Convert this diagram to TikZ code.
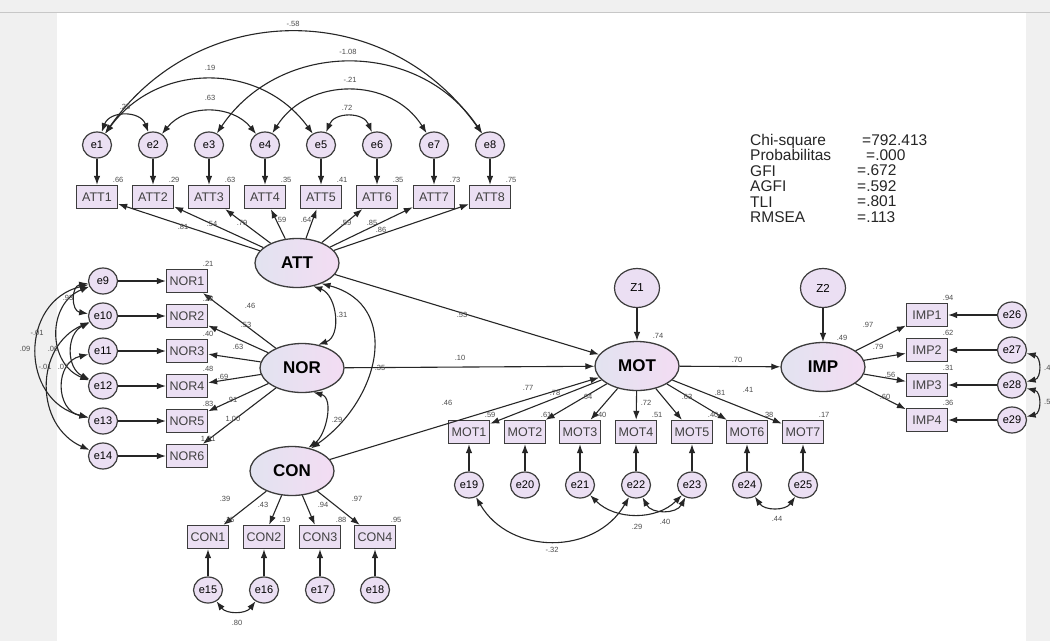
\documentclass[tikz,border=0pt]{standalone}
\usepackage{fontspec}
\setmainfont{Liberation Sans}
\usetikzlibrary{shapes.geometric,arrows.meta}

\definecolor{boxfill}{RGB}{235,223,243}
\definecolor{latleft}{RGB}{226,227,240}
\definecolor{latright}{RGB}{243,220,243}
\definecolor{edge}{RGB}{60,60,60}
\definecolor{pagegray}{RGB}{240,240,240}

\tikzset{
  err/.style={ellipse, draw=edge, fill=boxfill, line width=1.2pt, minimum width=29pt, minimum height=26pt, inner sep=0pt, font=\fontsize{11}{11}\selectfont},
  obs/.style={rectangle, draw=edge, fill=boxfill, line width=1.3pt, minimum width=41pt, minimum height=23pt, inner sep=0pt, text=black!75, font=\fontsize{12.5}{12.5}\selectfont},
  lat/.style={ellipse, draw=edge, left color=latleft, right color=latright, line width=1.3pt, minimum width=84pt, minimum height=49pt, inner sep=0pt, font=\fontsize{17}{17}\selectfont\bfseries},
  zeta/.style={ellipse, draw=edge, fill=boxfill, line width=1.2pt, minimum width=45pt, minimum height=39pt, inner sep=0pt, font=\fontsize{11.5}{11.5}\selectfont},
  reg/.style={-{Latex[length=9pt,width=6.5pt]}, draw=black!85, line width=1.1pt},
  cov/.style={{Latex[length=9pt,width=6.5pt]}-{Latex[length=9pt,width=6.5pt]}, draw=black!85, line width=1.1pt},
  est/.style={font=\fontsize{7.5}{7.5}\selectfont, text=black!70, inner sep=0pt},
  fitlab/.style={anchor=north west, align=left, inner sep=0pt, text=black!85, font=\fontsize{15.5}{15.4}\selectfont},
}

\begin{document}
\begin{tikzpicture}[x=1pt,y=1pt]
\useasboundingbox (0,0) rectangle (1050,-641);
\fill[pagegray] (0,0) rectangle (1050,-641);
\fill[white] (57,-13) rectangle (1026,-641);
\draw[black!22, line width=1pt] (0,-12.5) -- (1050,-12.5);

% ATT block
\node[err] (e1) at (97,-145) {e1};
\node[err] (e2) at (153,-145) {e2};
\node[err] (e3) at (209,-145) {e3};
\node[err] (e4) at (265,-145) {e4};
\node[err] (e5) at (321,-145) {e5};
\node[err] (e6) at (377,-145) {e6};
\node[err] (e7) at (434,-145) {e7};
\node[err] (e8) at (490,-145) {e8};
\node[obs] (ATT1) at (97,-197) {ATT1};
\node[obs] (ATT2) at (153,-197) {ATT2};
\node[obs] (ATT3) at (209,-197) {ATT3};
\node[obs] (ATT4) at (265,-197) {ATT4};
\node[obs] (ATT5) at (321,-197) {ATT5};
\node[obs] (ATT6) at (377,-197) {ATT6};
\node[obs] (ATT7) at (434,-197) {ATT7};
\node[obs] (ATT8) at (490,-197) {ATT8};
\node[lat] (ATT) at (297,-263) {ATT};

% NOR block
\node[err] (e9) at (103,-281) {e9};
\node[err] (e10) at (103,-316) {e10};
\node[err] (e11) at (103,-351) {e11};
\node[err] (e12) at (103,-386) {e12};
\node[err] (e13) at (103,-421) {e13};
\node[err] (e14) at (103,-456) {e14};
\node[obs] (NOR1) at (187,-281) {NOR1};
\node[obs] (NOR2) at (187,-316) {NOR2};
\node[obs] (NOR3) at (187,-351) {NOR3};
\node[obs] (NOR4) at (187,-386) {NOR4};
\node[obs] (NOR5) at (187,-421) {NOR5};
\node[obs] (NOR6) at (187,-456) {NOR6};
\node[lat] (NOR) at (302,-368) {NOR};

% CON block
\node[lat] (CON) at (292,-471) {CON};
\node[obs] (CON1) at (208,-537) {CON1};
\node[obs] (CON2) at (264,-537) {CON2};
\node[obs] (CON3) at (320,-537) {CON3};
\node[obs] (CON4) at (375,-537) {CON4};
\node[err] (e15) at (208,-590) {e15};
\node[err] (e16) at (264,-590) {e16};
\node[err] (e17) at (320,-590) {e17};
\node[err] (e18) at (375,-590) {e18};

% MOT block
\node[zeta] (Z1) at (637,-288) {Z1};
\node[lat] (MOT) at (637,-366) {MOT};
\node[obs] (MOT1) at (469,-432) {MOT1};
\node[obs] (MOT2) at (525,-432) {MOT2};
\node[obs] (MOT3) at (580,-432) {MOT3};
\node[obs] (MOT4) at (636,-432) {MOT4};
\node[obs] (MOT5) at (692,-432) {MOT5};
\node[obs] (MOT6) at (747,-432) {MOT6};
\node[obs] (MOT7) at (803,-432) {MOT7};
\node[err] (e19) at (469,-485) {e19};
\node[err] (e20) at (525,-485) {e20};
\node[err] (e21) at (580,-485) {e21};
\node[err] (e22) at (636,-485) {e22};
\node[err] (e23) at (692,-485) {e23};
\node[err] (e24) at (747,-485) {e24};
\node[err] (e25) at (803,-485) {e25};

% IMP block
\node[zeta] (Z2) at (823,-288) {Z2};
\node[lat] (IMP) at (823,-367) {IMP};
\node[obs] (IMP1) at (927,-315) {IMP1};
\node[obs] (IMP2) at (927,-350) {IMP2};
\node[obs] (IMP3) at (927,-385) {IMP3};
\node[obs] (IMP4) at (927,-420) {IMP4};
\node[err] (e26) at (1012,-315) {e26};
\node[err] (e27) at (1012,-350) {e27};
\node[err] (e28) at (1012,-385) {e28};
\node[err] (e29) at (1012,-420) {e29};

% fit
\node[fitlab] (fitnames) at (750,-134) {Chi-square\\Probabilitas\\GFI\\AGFI\\TLI\\RMSEA};
\node[fitlab] (fitvals) at (857,-134) {\hspace{5pt}=792.413\\\hspace{9pt}=.000\\=.672\\=.592\\=.801\\=.113};

% paths
\draw[reg] (e1) -- (ATT1);
\draw[reg] (e2) -- (ATT2);
\draw[reg] (e3) -- (ATT3);
\draw[reg] (e4) -- (ATT4);
\draw[reg] (e5) -- (ATT5);
\draw[reg] (e6) -- (ATT6);
\draw[reg] (e7) -- (ATT7);
\draw[reg] (e8) -- (ATT8);
\draw[reg] (ATT) -- (ATT1);
\draw[reg] (ATT) -- (ATT2);
\draw[reg] (ATT) -- (ATT3);
\draw[reg] (ATT) -- (ATT4);
\draw[reg] (ATT) -- (ATT5);
\draw[reg] (ATT) -- (ATT6);
\draw[reg] (ATT) -- (ATT7);
\draw[reg] (ATT) -- (ATT8);
\draw[reg] (e9) -- (NOR1);
\draw[reg] (e10) -- (NOR2);
\draw[reg] (e11) -- (NOR3);
\draw[reg] (e12) -- (NOR4);
\draw[reg] (e13) -- (NOR5);
\draw[reg] (e14) -- (NOR6);
\draw[reg] (NOR) -- (NOR1);
\draw[reg] (NOR) -- (NOR2);
\draw[reg] (NOR) -- (NOR3);
\draw[reg] (NOR) -- (NOR4);
\draw[reg] (NOR) -- (NOR5);
\draw[reg] (NOR) -- (NOR6);
\draw[reg] (CON) -- (CON1);
\draw[reg] (CON) -- (CON2);
\draw[reg] (CON) -- (CON3);
\draw[reg] (CON) -- (CON4);
\draw[reg] (e15) -- (CON1);
\draw[reg] (e16) -- (CON2);
\draw[reg] (e17) -- (CON3);
\draw[reg] (e18) -- (CON4);
\draw[reg] (ATT) -- (MOT);
\draw[reg] (NOR) -- (MOT);
\draw[reg] (CON) -- (MOT);
\draw[reg] (Z1) -- (MOT);
\draw[reg] (MOT) -- (MOT1);
\draw[reg] (MOT) -- (MOT2);
\draw[reg] (MOT) -- (MOT3);
\draw[reg] (MOT) -- (MOT4);
\draw[reg] (MOT) -- (MOT5);
\draw[reg] (MOT) -- (MOT6);
\draw[reg] (MOT) -- (MOT7);
\draw[reg] (e19) -- (MOT1);
\draw[reg] (e20) -- (MOT2);
\draw[reg] (e21) -- (MOT3);
\draw[reg] (e22) -- (MOT4);
\draw[reg] (e23) -- (MOT5);
\draw[reg] (e24) -- (MOT6);
\draw[reg] (e25) -- (MOT7);
\draw[reg] (MOT) -- (IMP);
\draw[reg] (Z2) -- (IMP);
\draw[reg] (IMP) -- (IMP1);
\draw[reg] (IMP) -- (IMP2);
\draw[reg] (IMP) -- (IMP3);
\draw[reg] (IMP) -- (IMP4);
\draw[reg] (e26) -- (IMP1);
\draw[reg] (e27) -- (IMP2);
\draw[reg] (e28) -- (IMP3);
\draw[reg] (e29) -- (IMP4);

% covariances
\draw[cov] (e1) to[bend left=70, looseness=1.27] (e2);
\draw[cov] (e2) to[bend left=51, looseness=1.05] (e4);
\draw[cov] (e1) to[bend left=54, looseness=1.1] (e5);
\draw[cov] (e5) to[bend left=68, looseness=1.24] (e6);
\draw[cov] (e4) to[bend left=58, looseness=1.11] (e7);
\draw[cov] (e3) to[bend left=56, looseness=1.1] (e8);
\draw[cov] (e1) to[bend left=55, looseness=1.12] (e8);
\draw[cov] (e9) to[bend right=81, looseness=1.47] (e10);
\draw[cov] (e9) to[bend right=76, looseness=1.37] (e13);
\draw[cov] (e10) to[bend right=66, looseness=1.21] (e14);
\draw[cov] (e9) to[bend right=68, looseness=1.24] (e12);
\draw[cov] (e11) to[bend right=77, looseness=1.4] (e13);
\draw[cov] (e10) to[bend right=64, looseness=1.18] (e12);
\draw[cov] (e15) to[bend right=53, looseness=1.07] (e16);
\draw[cov] (e19) to[bend right=60, looseness=1.13] (e22);
\draw[cov] (e21) to[bend right=45, looseness=1.0] (e23);
\draw[cov] (e22) to[bend right=62, looseness=1.15] (e23);
\draw[cov] (e24) to[bend right=56, looseness=1.09] (e25);
\draw[cov] (e27) to[bend left=77, looseness=1.4] (e28);
\draw[cov] (e28) to[bend left=77, looseness=1.4] (e29);
\draw[cov] (ATT.-55) to[out=-20, in=20, looseness=1.1] (NOR.55);
\draw[cov] (NOR.-65) to[out=-15, in=35] (CON.55);
\draw[cov] (ATT.-40) to[out=-15, in=35, looseness=1.3] (CON.50);

% squared multiple correlations
\node[est, above=2pt] (rATT1) at (ATT1.north east) {.66};
\node[est, above=2pt] (rATT2) at (ATT2.north east) {.29};
\node[est, above=2pt] (rATT3) at (ATT3.north east) {.63};
\node[est, above=2pt] (rATT4) at (ATT4.north east) {.35};
\node[est, above=2pt] (rATT5) at (ATT5.north east) {.41};
\node[est, above=2pt] (rATT6) at (ATT6.north east) {.35};
\node[est, above=2pt] (rATT7) at (ATT7.north east) {.73};
\node[est, above=2pt] (rATT8) at (ATT8.north east) {.75};
\node[est, above=2pt] (rNOR1) at (NOR1.north east) {.21};
\node[est, above=2pt] (rNOR2) at (NOR2.north east) {.28};
\node[est, above=2pt] (rNOR3) at (NOR3.north east) {.40};
\node[est, above=2pt] (rNOR4) at (NOR4.north east) {.48};
\node[est, above=2pt] (rNOR5) at (NOR5.north east) {.83};
\node[est, above=2pt] (rNOR6) at (NOR6.north east) {1.01};
\node[est, above=2pt] (rCON1) at (CON1.north east) {.15};
\node[est, above=2pt] (rCON2) at (CON2.north east) {.19};
\node[est, above=2pt] (rCON3) at (CON3.north east) {.88};
\node[est, above=2pt] (rCON4) at (CON4.north east) {.95};
\node[est, above=2pt] (rMOT1) at (MOT1.north east) {.59};
\node[est, above=2pt] (rMOT2) at (MOT2.north east) {.61};
\node[est, above=2pt] (rMOT3) at (MOT3.north east) {.40};
\node[est, above=2pt] (rMOT4) at (MOT4.north east) {.51};
\node[est, above=2pt] (rMOT5) at (MOT5.north east) {.40};
\node[est, above=2pt] (rMOT6) at (MOT6.north east) {.38};
\node[est, above=2pt] (rMOT7) at (MOT7.north east) {.17};
\node[est, above=2pt] (rIMP1) at (IMP1.north east) {.94};
\node[est, above=2pt] (rIMP2) at (IMP2.north east) {.62};
\node[est, above=2pt] (rIMP3) at (IMP3.north east) {.31};
\node[est, above=2pt] (rIMP4) at (IMP4.north east) {.36};
\node[est] (rMOT) at (658,-336) {.74};
\node[est] (rIMP) at (842,-338) {.49};

% weights
\node[est] (wATT1) at (183,-227) {.81};
\node[est] (wATT2) at (212,-224) {.54};
\node[est] (wATT3) at (242,-223) {.79};
\node[est] (wATT4) at (281,-220) {.59};
\node[est] (wATT5) at (306,-220) {.64};
\node[est] (wATT6) at (346,-223) {.59};
\node[est] (wATT7) at (372,-223) {.85};
\node[est] (wATT8) at (381,-230) {.86};
\node[est] (wNOR1) at (250,-306) {.46};
\node[est] (wNOR2) at (246,-325) {.53};
\node[est] (wNOR3) at (238,-347) {.63};
\node[est] (wNOR4) at (223,-377) {.69};
\node[est] (wNOR5) at (232,-400) {.91};
\node[est] (wNOR6) at (233,-419) {1.00};
\node[est] (wCON1) at (225,-499) {.39};
\node[est] (wCON2) at (263,-505) {.43};
\node[est] (wCON3) at (323,-505) {.94};
\node[est] (wCON4) at (357,-499) {.97};
\node[est] (wATTMOT) at (462,-315) {.53};
\node[est] (wNORMOT) at (460,-358) {.10};
\node[est] (wCONMOT) at (447,-403) {.46};
\node[est] (wMOTIMP) at (737,-360) {.70};
\node[est] (wMOT1) at (528,-388) {.77};
\node[est] (wMOT2) at (555,-393) {.78};
\node[est] (wMOT3) at (587,-397) {.64};
\node[est] (wMOT4) at (646,-403) {.72};
\node[est] (wMOT5) at (687,-397) {.63};
\node[est] (wMOT6) at (720,-393) {.81};
\node[est] (wMOT7) at (748,-390) {.41};
\node[est] (wIMP1) at (868,-325) {.97};
\node[est] (wIMP2) at (878,-347) {.79};
\node[est] (wIMP3) at (890,-375) {.56};
\node[est] (wIMP4) at (885,-397) {.60};

% covariance values
\node[est] (c1) at (125,-107) {.25};
\node[est] (c2) at (210,-98) {.63};
\node[est] (c3) at (210,-68) {.19};
\node[est] (c4) at (347,-108) {.72};
\node[est] (c5) at (350,-80) {-.21};
\node[est] (c6) at (348,-52) {-1.08};
\node[est] (c7) at (293,-24) {-.58};
\node[est] (c8) at (68,-298) {.93};
\node[est] (c9) at (37,-333) {-.01};
\node[est] (c10) at (25,-349) {.09};
\node[est] (c11) at (53,-349) {.06};
\node[est] (c12) at (45,-367) {-.01};
\node[est] (c13) at (63,-367) {.07};
\node[est] (c14) at (237,-623) {.80};
\node[est] (c15) at (342,-315) {.31};
\node[est] (c16) at (337,-420) {.29};
\node[est] (c17) at (380,-368) {.35};
\node[est] (c18) at (552,-550) {-.32};
\node[est] (c19) at (637,-527) {.29};
\node[est] (c20) at (665,-522) {.40};
\node[est] (c21) at (777,-519) {.44};
\node[est, anchor=west] (c22) at (1044,-368) {.4};
\node[est, anchor=west] (c23) at (1044,-402) {.5};
\end{tikzpicture}
\end{document}
